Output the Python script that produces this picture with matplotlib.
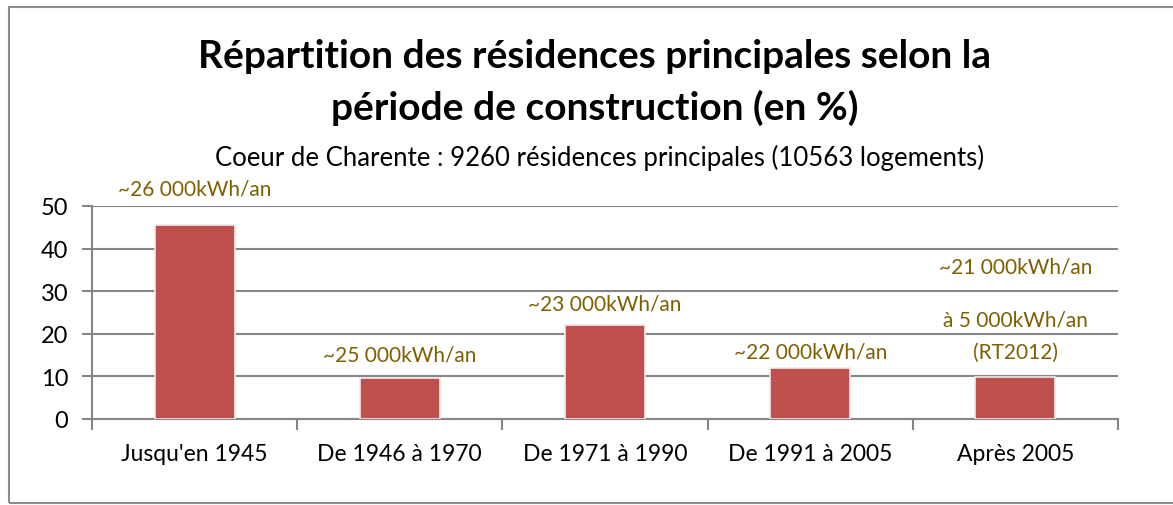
import matplotlib.pyplot as plt
from matplotlib.patches import Rectangle

# données
periodes = ["Jusqu'en 1945", "De 1946 à 1970", "De 1971 à 1990", "De 1991 à 2005", "Après 2005"]
parts = [45.6, 9.6, 22.1, 12.0, 9.9]
conso = [["~26 000kWh/an"], ["~25 000kWh/an"], ["~23 000kWh/an"], ["~22 000kWh/an"],
         ["~21 000kWh/an", "à 5 000kWh/an", "(RT2012)"]]
yticks = [0, 10, 20, 30, 40, 50]

titre = "Répartition des résidences principales selon la\npériode de construction (en %)"
sous_titre = "Coeur de Charente : 9260 résidences principales (10563 logements)"

# décalage des étiquettes au-dessus des barres (pixels)
decalages = [[36], [24], [21], [16], [110, 57, 25]]

plt.rcParams['font.family'] = ['Lato', 'DejaVu Sans']

fig = plt.figure(figsize=(11.73, 5.06), dpi=100)
ax = fig.add_axes([92/1173, 1-420/506, (1118-92)/1173, (420-207)/506])

x = range(len(periodes))
ax.bar(x, parts, width=0.39, color='#C0504D', edgecolor='#ececec', linewidth=1.2, zorder=3)

ax.set_xlim(-0.5, len(periodes)-0.5)
ax.set_ylim(0, 50)
ax.set_yticks(yticks)
ax.set_xticks([i + 0.5 for i in range(-1, len(periodes))], minor=False)
ax.set_xticklabels([])
ax.set_xticks(list(x), minor=True)
ax.set_xticklabels(periodes, minor=True)
ax.tick_params(axis='x', which='minor', length=0, labelsize=16.5, pad=17)
ax.tick_params(axis='x', which='major', length=8, width=1.5, color='#868686', direction='out')
ax.tick_params(axis='y', length=7, width=1.5, color='#868686', labelsize=17, pad=10)
ax.grid(axis='y', color='#868686', linewidth=1.5, zorder=0)
for s in ['top', 'right']:
    ax.spines[s].set_visible(False)
for s in ['left', 'bottom']:
    ax.spines[s].set_color('#868686')
    ax.spines[s].set_linewidth(1.5)

# étiquettes de consommation
for i, v in enumerate(parts):
    for txt, d in zip(conso[i], decalages[i]):
        ax.annotate(txt, xy=(i, v), xytext=(0, d), textcoords='offset pixels',
                    ha='center', va='center', color='#7F6000', fontsize=15)

fig.text(0.507, 1-57/506, titre.split('\n')[0], ha='center', va='center', fontsize=28,
         fontweight='bold')
fig.text(0.507, 1-108/506, titre.split('\n')[1], ha='center', va='center', fontsize=28,
         fontweight='bold')
fig.text(0.511, 1-158/506, sous_titre, ha='center', va='center', fontsize=18.5)

fig.patches.append(Rectangle((9/1173, 2/506), 1.2, 496/506, transform=fig.transFigure,
                             fill=False, edgecolor='#8c8c8c', linewidth=1.5, clip_on=False))

fig.savefig('out.png', dpi=100)
